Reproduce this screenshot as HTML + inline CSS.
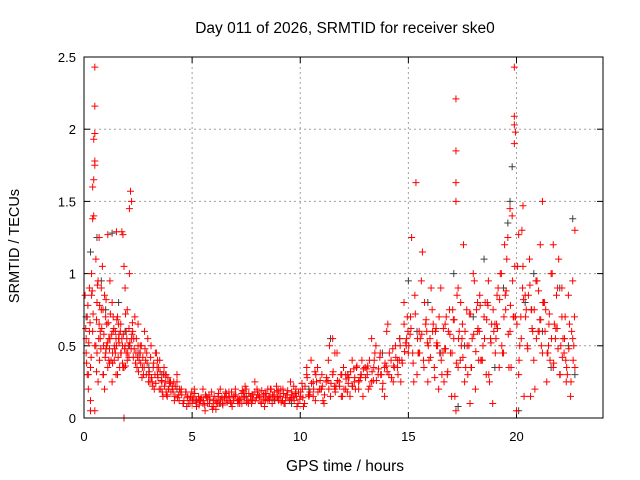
<!DOCTYPE html>
<html><head><meta charset="utf-8">
<style>
body{margin:0;background:#fff;}
svg{display:block;font-family:"Liberation Sans",sans-serif;}
</style></head>
<body>
<svg id="chart" width="640" height="480" viewBox="0 0 640 480">
<rect width="640" height="480" fill="#fff"/>
<text x="345" y="33" font-size="15.5" text-anchor="middle" fill="#000">Day 011 of 2026, SRMTID for receiver ske0</text>
<text x="345" y="471" font-size="15.5" text-anchor="middle" fill="#000">GPS time / hours</text>
<text transform="translate(19,246) rotate(-90)" font-size="14.5" text-anchor="middle" fill="#000">SRMTID / TECUs</text>
<g id="grid"></g>
<g id="ticks"></g>
<g id="blackSeries"></g>
<g id="redSeries"></g>
<rect x="84" y="57" width="519" height="361" fill="none" stroke="#000" stroke-width="1"/>
</svg>
<script>
const xTicks=[0,5,10,15,20];
const xTickLabels=["0","5","10","15","20"];
const yTicks=[0,0.5,1,1.5,2,2.5];
const yTickLabels=["0","0.5","1","1.5","2","2.5"];
const redX=[0.05,0.1,0.15,0.2,0.25,0.3,0.35,0.4,0.45,0.5,0.5,0.5,0.45,0.5,0.5,0.4,0.45,0.5,0.55,0.6,0.65,0.7,0.75,0.8,0.85,0.9,0.95,1.0,1.05,1.1,1.15,1.2,1.25,1.3,1.35,1.4,1.45,1.5,1.55,1.6,1.65,1.7,1.75,1.8,1.85,1.9,1.95,2.0,2.05,2.1,2.15,2.2,2.2,2.1,0.1,0.2,0.3,0.4,0.6,0.7,0.8,0.9,1.0,1.1,1.2,1.3,1.4,1.5,1.6,1.7,1.8,1.9,2.0,0.15,0.35,0.55,0.75,0.95,1.15,1.35,1.55,1.75,1.95,0.25,0.65,1.05,1.45,1.85,0.3,0.5,1.85,
2.3,2.4,2.5,2.6,2.7,2.8,2.9,3.0,3.1,3.2,3.3,3.4,3.5,3.6,3.7,3.8,3.9,4.0,2.35,2.55,2.75,2.95,3.15,3.35,3.55,3.75,3.95,2.45,2.65,2.85,3.05,3.25,3.45,3.65,3.85,2.6,3.0,3.4,3.8,2.25,2.5,
4.1,4.2,4.3,4.4,4.5,4.6,4.7,4.8,4.9,5.0,5.1,5.2,5.3,5.4,5.5,5.6,5.7,5.8,5.9,6.0,6.1,6.2,6.3,6.4,6.5,6.6,6.7,6.8,6.9,7.0,7.1,7.2,7.3,7.4,7.5,7.6,7.7,7.8,7.9,8.0,8.1,8.2,8.3,8.4,8.5,8.6,8.7,8.8,8.9,9.0,9.1,9.2,9.3,9.4,9.5,9.6,9.7,9.8,9.9,10.0,4.15,4.45,4.75,5.05,5.35,5.65,5.95,6.25,6.55,6.85,7.15,7.45,7.75,8.05,8.35,8.65,8.95,9.25,9.55,9.85,4.3,4.9,5.5,6.1,6.7,7.3,7.9,8.5,9.1,9.7,
10.1,10.2,10.3,10.4,10.5,10.6,10.7,10.8,10.9,11.0,11.1,11.2,11.3,11.4,11.5,11.6,11.7,11.8,11.9,12.0,12.1,12.2,12.3,12.4,12.5,12.6,12.7,12.8,12.9,13.0,10.15,10.45,10.75,11.05,11.35,11.65,11.95,12.25,12.55,12.85,10.3,10.9,11.5,12.1,12.7,10.6,11.6,12.4,
13.1,13.2,13.3,13.4,13.5,13.6,13.7,13.8,13.9,14.0,14.1,14.2,14.3,14.4,14.5,14.6,14.7,14.8,14.9,15.0,13.15,13.45,13.75,14.05,14.35,14.65,14.95,13.3,13.9,14.5,14.8,
15.1,15.2,15.3,15.4,15.5,15.6,15.7,15.8,15.9,16.0,16.1,16.2,16.3,16.4,16.5,16.6,16.7,16.8,16.9,17.0,17.1,17.2,17.2,17.2,17.2,17.2,17.3,17.4,17.5,17.6,17.7,17.8,17.9,18.0,18.1,18.2,18.3,18.4,18.5,18.6,18.7,18.8,18.9,19.0,19.1,19.2,19.3,19.4,19.5,19.6,19.7,19.8,19.9,19.9,19.9,19.95,19.9,20.0,20.1,20.2,20.3,20.4,20.5,20.6,20.7,20.8,20.9,21.0,21.1,21.2,21.3,21.4,21.5,21.6,21.7,21.8,21.9,22.0,22.1,22.2,22.3,22.4,22.5,22.6,22.7,22.6,
15.15,15.35,15.55,15.75,15.95,16.15,16.35,16.55,16.75,16.95,17.15,17.35,17.55,17.75,17.95,18.15,18.35,18.55,18.75,18.95,19.15,19.35,19.55,19.75,19.95,20.15,20.35,20.55,20.75,20.95,21.15,21.35,21.55,21.75,21.95,22.15,22.35,22.55,
15.25,15.65,16.05,16.45,16.85,17.25,17.65,18.05,18.45,18.85,19.25,19.65,20.05,20.45,20.85,21.25,21.65,22.05,22.45,22.7,
15.45,15.85,16.25,16.65,17.05,17.45,17.85,18.25,18.65,19.05,19.45,19.85,20.25,20.65,21.05,21.45,21.85,22.25,22.65,17.3,18.2,19.7,20.3,21.2,22.1,20.1,21.7];
const redY=[0.85,0.45,0.7,0.3,0.9,0.05,1.0,1.38,1.65,2.43,2.16,1.97,1.93,1.78,1.75,1.6,1.4,0.05,1.1,0.8,0.95,1.25,0.6,0.75,1.05,0.5,0.85,0.7,0.65,1.27,0.55,0.95,0.4,0.8,0.6,0.5,0.45,1.29,0.7,0.55,0.35,0.65,1.29,1.27,0,0.9,0.6,0.75,0.5,1.45,1.57,1.5,0.55,1.0,0.55,0.2,0.35,0.6,0.45,0.65,0.9,0.3,0.45,0.35,0.55,0.25,0.4,0.5,0.65,0.45,0.35,0.5,0.4,0.3,0.85,0.5,0.55,0.2,0.4,0.7,0.3,0.55,0.45,0.6,0.25,0.5,0.6,0.35,0.12,0.5,1.05,
0.55,0.45,0.65,0.5,0.35,0.6,0.45,0.3,0.5,0.35,0.45,0.3,0.4,0.25,0.35,0.3,0.2,0.25,0.7,0.4,0.3,0.55,0.25,0.45,0.2,0.3,0.25,0.35,0.5,0.4,0.25,0.2,0.35,0.15,0.15,0.45,0.3,0.4,0.18,0.6,0.5,
0.2,0.15,0.25,0.12,0.2,0.1,0.18,0.15,0.12,0.1,0.2,0.08,0.15,0.12,0.1,0.05,0.14,0.1,0.18,0.08,0.12,0.15,0.2,0.1,0.14,0.12,0.18,0.1,0.15,0.2,0.12,0.1,0.17,0.14,0.2,0.1,0.15,0.12,0.18,0.2,0.14,0.1,0.16,0.12,0.2,0.15,0.1,0.18,0.22,0.12,0.15,0.2,0.1,0.16,0.12,0.18,0.14,0.2,0.1,0.15,0.25,0.18,0.08,0.14,0.12,0.15,0.06,0.1,0.18,0.08,0.12,0.22,0.1,0.16,0.08,0.2,0.14,0.1,0.25,0.08,0.3,0.1,0.2,0.06,0.15,0.1,0.25,0.12,0.2,0.22,
0.2,0.1,0.3,0.15,0.4,0.25,0.12,0.35,0.2,0.3,0.1,0.25,0.4,0.15,0.3,0.2,0.45,0.25,0.15,0.35,0.2,0.3,0.15,0.4,0.25,0.35,0.2,0.3,0.15,0.35,0.08,0.18,0.25,0.12,0.5,0.22,0.15,0.28,0.2,0.4,0.35,0.2,0.55,0.3,0.25,0.15,0.45,0.22,
0.3,0.4,0.25,0.35,0.5,0.3,0.45,0.2,0.35,0.6,0.3,0.4,0.25,0.5,0.35,0.55,0.4,0.65,0.5,0.45,0.2,0.45,0.3,0.65,0.35,0.25,0.7,0.55,0.15,0.4,0.8,
0.7,0.45,0.85,0.3,0.6,0.95,0.4,0.65,0.25,0.55,0.75,0.35,0.5,0.2,0.9,0.45,0.65,0.3,0.75,0.15,0.55,2.21,1.85,1.63,1.5,0.05,0.9,0.4,0.65,0.25,0.75,0.5,0.35,1.0,0.2,0.6,0.85,0.4,0.7,0.3,0.95,0.55,0.1,0.65,0.85,0.35,1.0,0.45,0.75,1.25,0.6,1.4,2.43,2.09,2.03,1.98,1.9,0.05,0.3,0.7,1.05,0.85,0.5,1.1,0.75,0.4,0.95,0.6,1.2,0.45,0.8,0.25,0.65,1.0,0.35,0.55,0.9,0.3,0.7,0.45,0.25,0.85,0.15,0.55,1.3,0.95,1.25,1.63,
0.55,0.8,0.4,0.65,0.5,0.3,0.7,0.45,0.15,0.6,1.2,0.3,0.55,0.75,0.4,0.8,0.25,0.6,0.9,0.45,1.1,0.35,0.7,0.5,0.15,0.85,0.6,0.95,0.5,0.75,0.4,0.65,1.1,0.55,0.3,0.6,0.25,1.15,
0.9,0.45,0.6,0.85,0.35,0.95,0.5,0.65,1.0,0.35,1.05,0.75,0.2,0.8,1.0,0.5,0.65,0.35,0.45,0.6,
0.6,0.25,0.75,0.5,0.1,0.4,0.8,0.55,1.2,0.7,1.3,0.15,0.6,0.45,0.85,0.7,0.5,0.35,0.8,1.45,1.47,1.5,0.9,1.27,1.2,0.05,1.35];
const redX2=[0.08,0.12,0.18,0.22,0.28,0.33,0.38,0.42,0.58,0.62,0.68,0.72,0.78,0.82,0.88,0.92,0.98,1.02,1.08,1.12,1.18,1.22,1.28,1.32,1.38,1.42,1.48,1.52,1.58,1.62,1.68,1.72,1.78,1.82,1.88,1.92,1.98,2.02,2.08,2.12,2.18,2.22,2.28,0.58,0.72,0.88,1.02,1.18,1.32,1.48,1.62,1.78,1.92,2.08,2.24,
2.32,2.38,2.42,2.48,2.52,2.58,2.62,2.68,2.72,2.78,2.82,2.88,2.92,2.98,3.02,3.08,3.12,3.18,3.22,3.28,3.32,3.38,3.42,3.48,3.52,3.58,3.62,3.68,3.72,3.78,3.82,3.88,3.92,3.98,4.02,4.08,
4.12,4.22,4.32,4.42,4.52,4.62,4.72,4.82,4.92,5.02,5.12,5.22,5.32,5.42,5.52,5.62,5.72,5.82,5.92,6.02,6.12,6.22,6.32,6.42,6.52,6.62,6.72,6.82,6.92,7.02,7.12,7.22,7.32,7.42,7.52,7.62,7.72,7.82,7.92,8.02,8.12,8.22,8.32,8.42,8.52,8.62,8.72,8.82,8.92,9.02,9.12,9.22,9.32,9.42,9.52,9.62,9.72,9.82,9.92,
4.18,4.38,4.58,4.78,4.98,5.18,5.38,5.58,5.78,5.98,6.18,6.38,6.58,6.78,6.98,7.18,7.38,7.58,7.78,7.98,8.18,8.38,8.58,8.78,8.98,9.18,9.38,9.58,9.78,9.98,
10.02,10.12,10.22,10.32,10.42,10.52,10.62,10.72,10.82,10.92,11.02,11.12,11.22,11.32,11.42,11.52,11.62,11.72,11.82,11.92,12.02,12.12,12.22,12.32,12.42,12.52,12.62,12.72,12.82,12.92,10.08,10.38,10.68,10.98,11.28,11.58,11.88,12.18,12.48,12.78,
13.02,13.12,13.22,13.32,13.42,13.52,13.62,13.72,13.82,13.92,14.02,14.12,14.22,14.32,14.42,14.52,14.62,14.72,14.82,14.92,13.08,13.38,13.68,13.98,14.28,14.58,14.88,14.98,
15.02,15.12,15.22,15.32,15.42,15.52,15.62,15.72,15.82,15.92,16.02,16.12,16.22,16.32,16.42,16.52,16.62,16.72,16.82,16.92,17.02,17.12,17.22,17.32,17.42,17.52,17.62,17.72,17.82,17.92,18.02,18.12,18.22,18.32,18.42,18.52,18.62,18.72,18.82,18.92,19.02,19.12,19.22,19.32,19.42,19.52,19.62,19.72,19.82,19.92,20.02,20.12,20.22,20.32,20.42,20.52,20.62,20.72,20.82,20.92,21.02,21.12,21.22,21.32,21.42,21.52,21.62,21.72,21.82,21.92,22.02,22.12,22.22,22.32,22.42,22.52,22.62,
15.08,15.48,15.88,16.28,16.68,17.08,17.48,17.88,18.28,18.68,19.08,19.48,19.88,20.28,20.68,21.08,21.48,21.88,22.28,22.68];
const redY2=[0.62,0.38,0.78,0.52,0.66,0.42,0.88,0.72,0.68,0.92,0.55,0.78,0.48,0.62,0.75,0.58,0.42,0.82,0.52,0.66,0.48,0.72,0.58,0.38,0.62,0.48,0.55,0.68,0.42,0.52,0.6,0.45,0.38,0.58,0.48,0.72,0.55,0.45,0.62,0.52,0.48,0.58,0.42,0.32,0.4,0.3,0.48,0.38,0.45,0.3,0.58,0.5,0.36,0.42,0.66,
0.48,0.38,0.55,0.42,0.32,0.45,0.38,0.28,0.42,0.35,0.48,0.3,0.38,0.25,0.32,0.42,0.28,0.22,0.38,0.3,0.24,0.35,0.28,0.2,0.32,0.26,0.18,0.3,0.22,0.25,0.16,0.28,0.2,0.24,0.18,0.22,
0.18,0.22,0.14,0.2,0.16,0.12,0.18,0.1,0.15,0.13,0.17,0.11,0.09,0.14,0.12,0.16,0.1,0.13,0.08,0.15,0.11,0.17,0.13,0.09,0.15,0.11,0.14,0.18,0.12,0.16,0.1,0.13,0.19,0.15,0.11,0.17,0.13,0.16,0.12,0.18,0.15,0.19,0.13,0.17,0.14,0.2,0.16,0.13,0.18,0.15,0.11,0.17,0.14,0.19,0.13,0.16,0.12,0.15,0.18,
0.12,0.16,0.1,0.14,0.18,0.11,0.13,0.09,0.16,0.12,0.1,0.14,0.17,0.11,0.15,0.13,0.18,0.12,0.16,0.14,0.11,0.17,0.13,0.15,0.19,0.12,0.16,0.14,0.17,0.13,
0.18,0.14,0.22,0.28,0.16,0.24,0.2,0.3,0.18,0.26,0.22,0.16,0.28,0.2,0.24,0.32,0.18,0.26,0.22,0.3,0.2,0.27,0.24,0.32,0.22,0.28,0.36,0.26,0.3,0.34,0.24,0.16,0.32,0.2,0.26,0.22,0.3,0.18,0.34,0.28,
0.28,0.36,0.22,0.32,0.4,0.26,0.34,0.3,0.24,0.38,0.32,0.45,0.28,0.36,0.42,0.3,0.5,0.38,0.46,0.55,0.34,0.26,0.42,0.36,0.48,0.4,0.52,0.6,
0.5,0.62,0.38,0.72,0.55,0.45,0.58,0.35,0.68,0.5,0.42,0.6,0.28,0.52,0.7,0.4,0.62,0.48,0.32,0.58,0.45,0.68,0.38,0.55,0.8,0.42,0.6,0.5,0.72,0.35,0.58,0.46,0.62,0.78,0.4,0.55,0.68,0.3,0.52,0.75,0.45,0.62,0.82,0.5,0.7,0.88,0.58,0.78,0.95,1.05,0.65,0.4,0.55,0.82,0.7,0.48,0.92,0.62,0.75,0.55,0.88,0.68,0.8,0.6,0.45,0.72,0.55,0.38,0.62,0.48,0.3,0.42,0.55,0.35,0.48,0.25,0.4,
0.58,0.45,0.52,0.62,0.48,0.68,0.55,0.72,0.6,0.78,0.65,0.85,0.7,0.9,0.75,0.68,0.5,0.62,0.4,0.7];
const blackX=[0.1,0.3,0.6,0.8,1.0,1.3,1.6,1.9,2.1,2.5,3.0,3.6,4.3,5.2,6.3,7.5,8.8,9.6,10.4,11.4,12.2,13.0,13.8,14.6,15.0,15.4,15.9,16.5,17.1,17.6,18.0,18.5,19.0,19.4,19.7,19.8,20.1,20.4,20.8,21.2,21.6,22.0,22.4,22.6,22.7,17.3,19.6];
const blackY=[0.7,1.15,1.25,0.95,0.75,1.28,0.8,0.6,0.5,0.45,0.35,0.3,0.2,0.12,0.1,0.15,0.12,0.1,0.2,0.55,0.3,0.35,0.45,0.55,0.95,0.6,0.8,0.45,1.0,0.5,0.7,1.1,0.35,0.9,1.5,1.74,0.05,0.8,1.0,0.6,0.35,0.9,0.5,1.38,0.3,0.08,1.35];
const L=84,R=603,T=57,B=418,XMAX=24,YMAX=2.5;
const NS="http://www.w3.org/2000/svg";
function xs(v){return L+(R-L)*v/XMAX;}
function ys(v){return B-(B-T)*v/YMAX;}
function mk(tag,attrs,parent){const e=document.createElementNS(NS,tag);for(const k in attrs)e.setAttribute(k,attrs[k]);parent.appendChild(e);return e;}
const grid=document.getElementById('grid'),ticks=document.getElementById('ticks');
xTicks.forEach((t,i)=>{
  const x=xs(t);
  if(t>0){const g=mk('line',{x1:x,x2:x,y1:T,y2:B,stroke:'#a0a0a0','stroke-dasharray':'2,3'},grid);
  
  }
  mk('line',{x1:x,x2:x,y1:B,y2:B-6,stroke:'#000'},ticks);
  mk('line',{x1:x,x2:x,y1:T,y2:T+6,stroke:'#000'},ticks);
  const tx=mk('text',{x:x,y:B+23,'font-size':13,'text-anchor':'middle'},ticks);
  tx.textContent=xTickLabels[i];
  
  
});
yTicks.forEach((t,i)=>{
  const y=ys(t);
  if(t>0&&t<YMAX){const g=mk('line',{x1:L,x2:R,y1:y,y2:y,stroke:'#a0a0a0','stroke-dasharray':'2,3'},grid);
  
  }
  mk('line',{x1:L,x2:L+6,y1:y,y2:y,stroke:'#000'},ticks);
  mk('line',{x1:R,x2:R-6,y1:y,y2:y,stroke:'#000'},ticks);
  const tx=mk('text',{x:L-8,y:y+5,'font-size':13,'text-anchor':'end'},ticks);
  tx.textContent=yTickLabels[i];
  
  
});
function plus(g,X,Y,color){
  for(let i=0;i<X.length;i++){
    const x=xs(X[i]),y=ys(Y[i]);
    const p=mk('path',{d:`M${x-3.5},${y}h7M${x},${y-3.5}v7`,stroke:color,'stroke-width':1,fill:'none'},g);
    
    
  }
}
plus(document.getElementById('blackSeries'),blackX,blackY,'#404040');
plus(document.getElementById('redSeries'),redX,redY,'#ff0000');
plus(document.getElementById('redSeries'),redX2,redY2,'#ff0000');
</script>
</body></html>
